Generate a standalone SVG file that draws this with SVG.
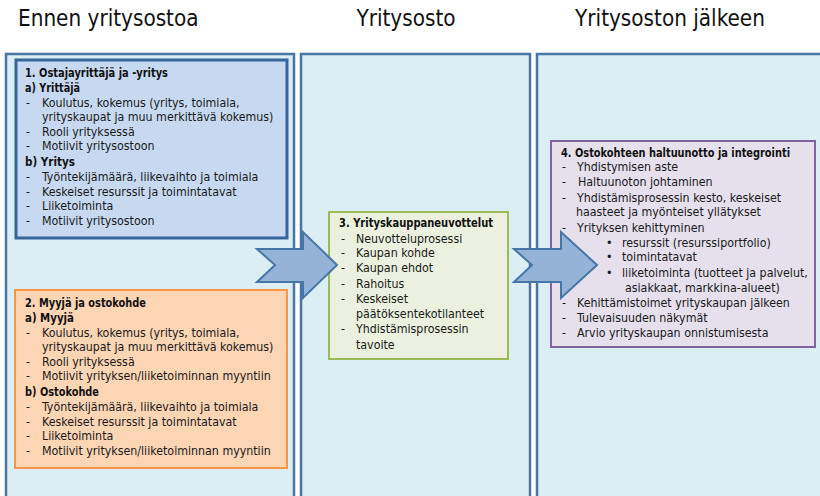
<svg xmlns="http://www.w3.org/2000/svg" width="820" height="496" viewBox="0 0 820 496">
<style>
.hdr{font-family:"DejaVu Sans Condensed","Liberation Sans Narrow","Liberation Sans",sans-serif;font-size:22.3px;fill:#111}
.t{font-family:"DejaVu Sans Condensed","Liberation Sans Narrow","Liberation Sans",sans-serif;font-size:12.3px;fill:#1a1a1a}
.b{font-family:"DejaVu Sans Condensed","Liberation Sans Narrow","Liberation Sans",sans-serif;font-weight:bold;font-size:12.2px;fill:#111}
.col{fill:#daeef3;stroke:#4a76a6;stroke-width:2.5}
.arrow{fill:#95b3d7;stroke:#4676a8;stroke-width:2;stroke-linejoin:miter}
</style>
<rect width="820" height="496" fill="#ffffff"/>
<g id="headers">
<text class="hdr" x="18" y="26">Ennen yritysostoa</text>
<text class="hdr" x="406" y="26" text-anchor="middle">Yritysosto</text>
<text class="hdr" x="670" y="26" text-anchor="middle">Yritysoston jälkeen</text>
</g>
<g id="columns">
<rect class="col" x="6" y="54" width="288" height="450"/>
<rect class="col" x="301" y="54" width="229" height="450"/>
<rect class="col" x="537" y="54" width="295" height="450"/>
</g>
<g id="node1">
<rect x="16" y="60" width="271" height="178" fill="#c6d9f1" stroke="#35659a" stroke-width="3"/>
<text class="b" x="25" y="77" textLength="143" lengthAdjust="spacingAndGlyphs">1. Ostajayrittäjä ja -yritys</text>
<text class="b" x="25" y="92" textLength="55" lengthAdjust="spacingAndGlyphs">a) Yrittäjä</text>
<text class="b" x="25" y="166" textLength="50" lengthAdjust="spacingAndGlyphs">b) Yritys</text>
<text class="t">
<tspan x="26" y="107">-</tspan><tspan x="42" y="107">Koulutus, kokemus (yritys, toimiala,</tspan>
<tspan x="42" y="121">yrityskaupat ja muu merkittävä kokemus)</tspan>
<tspan x="26" y="136">-</tspan><tspan x="42" y="136">Rooli yrityksessä</tspan>
<tspan x="26" y="150">-</tspan><tspan x="42" y="150">Motiivit yritysostoon</tspan>
<tspan x="26" y="181">-</tspan><tspan x="42" y="181">Työntekijämäärä, liikevaihto ja toimiala</tspan>
<tspan x="26" y="196">-</tspan><tspan x="42" y="196">Keskeiset resurssit ja toimintatavat</tspan>
<tspan x="26" y="210">-</tspan><tspan x="42" y="210">Liiketoiminta</tspan>
<tspan x="26" y="225">-</tspan><tspan x="42" y="225">Motiivit yritysostoon</tspan>
</text>
</g>
<g id="node2">
<rect x="15" y="290" width="272" height="178" fill="#fcd5b5" stroke="#f79646" stroke-width="2"/>
<text class="b" x="25" y="307" textLength="121" lengthAdjust="spacingAndGlyphs">2. Myyjä ja ostokohde</text>
<text class="b" x="25" y="322" textLength="49" lengthAdjust="spacingAndGlyphs">a) Myyjä</text>
<text class="b" x="25" y="396" textLength="74" lengthAdjust="spacingAndGlyphs">b) Ostokohde</text>
<text class="t">
<tspan x="26" y="337">-</tspan><tspan x="42" y="337">Koulutus, kokemus (yritys, toimiala,</tspan>
<tspan x="42" y="351">yrityskaupat ja muu merkittävä kokemus)</tspan>
<tspan x="26" y="366">-</tspan><tspan x="42" y="366">Rooli yrityksessä</tspan>
<tspan x="26" y="380">-</tspan><tspan x="42" y="380">Motiivit yrityksen/liiketoiminnan myyntiin</tspan>
<tspan x="26" y="411">-</tspan><tspan x="42" y="411">Työntekijämäärä, liikevaihto ja toimiala</tspan>
<tspan x="26" y="426">-</tspan><tspan x="42" y="426">Keskeiset resurssit ja toimintatavat</tspan>
<tspan x="26" y="440">-</tspan><tspan x="42" y="440">Liiketoiminta</tspan>
<tspan x="26" y="455">-</tspan><tspan x="42" y="455">Motiivit yrityksen/liiketoiminnan myyntiin</tspan>
</text>
</g>
<g id="node3">
<rect x="329" y="212" width="179" height="147" fill="#ebf1de" stroke="#9bbb59" stroke-width="2"/>
<text class="b" x="339" y="227" textLength="154" lengthAdjust="spacingAndGlyphs">3. Yrityskauppaneuvottelut</text>
<text class="t">
<tspan x="341" y="243">-</tspan><tspan x="356" y="243">Neuvotteluprosessi</tspan>
<tspan x="341" y="257">-</tspan><tspan x="356" y="257">Kaupan kohde</tspan>
<tspan x="341" y="272">-</tspan><tspan x="356" y="272">Kaupan ehdot</tspan>
<tspan x="341" y="288">-</tspan><tspan x="356" y="288">Rahoitus</tspan>
<tspan x="341" y="303">-</tspan><tspan x="356" y="303">Keskeiset</tspan>
<tspan x="356" y="318">päätöksentekotilanteet</tspan>
<tspan x="341" y="333">-</tspan><tspan x="356" y="333">Yhdistämisprosessin</tspan>
<tspan x="356" y="349">tavoite</tspan>
</text>
</g>
<g id="node4">
<rect x="551" y="141" width="264" height="206" fill="#e5e0ec" stroke="#8064a2" stroke-width="2"/>
<text class="b" x="561" y="157" textLength="229" lengthAdjust="spacingAndGlyphs">4. Ostokohteen haltuunotto ja integrointi</text>
<text class="t">
<tspan x="562" y="171">-</tspan><tspan x="577" y="171">Yhdistymisen aste</tspan>
<tspan x="562" y="186">-</tspan><tspan x="578" y="186">Haltuunoton johtaminen</tspan>
<tspan x="562" y="202">-</tspan><tspan x="577" y="202">Yhdistämisprosessin kesto, keskeiset</tspan>
<tspan x="576" y="216">haasteet ja myönteiset yllätykset</tspan>
<tspan x="562" y="232">-</tspan><tspan x="577" y="232">Yrityksen kehittyminen</tspan>
<tspan x="606" y="247">•</tspan><tspan x="622" y="247">resurssit (resurssiportfolio)</tspan>
<tspan x="606" y="261">•</tspan><tspan x="622" y="261">toimintatavat</tspan>
<tspan x="606" y="277">•</tspan><tspan x="622" y="277">liiketoiminta (tuotteet ja palvelut,</tspan>
<tspan x="625" y="292">asiakkaat, markkina-alueet)</tspan>
<tspan x="562" y="307">-</tspan><tspan x="577" y="307">Kehittämistoimet yrityskaupan jälkeen</tspan>
<tspan x="562" y="322">-</tspan><tspan x="577" y="322">Tulevaisuuden näkymät</tspan>
<tspan x="562" y="337">-</tspan><tspan x="577" y="337">Arvio yrityskaupan onnistumisesta</tspan>
</text>
</g>
<g id="connectors">
<polygon class="arrow" points="257,249 303,249 303,232 337,265 303,298 303,282 257,282 275,265"/>
<polygon class="arrow" points="514,249 561,249 561,232 597,265 561,298 561,282 514,282 532,265"/>
</g>
</svg>
